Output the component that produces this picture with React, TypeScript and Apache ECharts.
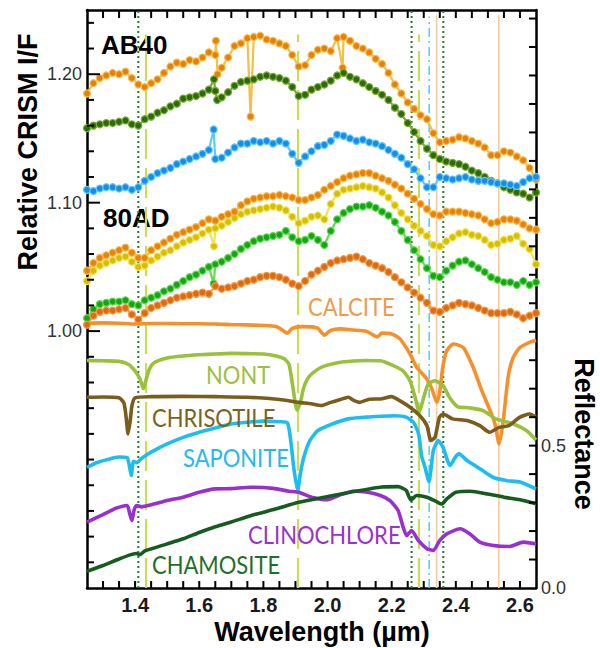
import React, { useEffect, useRef } from "react";
import * as echarts from "echarts";

// Wavelength grid of the CRISM spectra (µm)
const WL = [
  1.25, 1.27, 1.29, 1.31, 1.33, 1.35, 1.37, 1.39, 1.41, 1.43,
  1.45, 1.47, 1.49, 1.51, 1.53, 1.55, 1.57, 1.59, 1.61, 1.63,
  1.65, 1.67, 1.69, 1.71, 1.73, 1.75, 1.77, 1.79, 1.81, 1.83,
  1.85, 1.87, 1.89, 1.91, 1.93, 1.95, 1.97, 1.99, 2.01, 2.03,
  2.05, 2.07, 2.09, 2.11, 2.13, 2.15, 2.17, 2.19, 2.21, 2.23,
  2.25, 2.27, 2.29, 2.31, 2.33, 2.35, 2.37, 2.39, 2.41, 2.43,
  2.45, 2.47, 2.49, 2.51, 2.53, 2.55, 2.57, 2.59, 2.61, 2.63,
  2.65,
];

// Relative CRISM I/F (left axis)
const AB40_ORANGE = [
  1.185, 1.193, 1.197, 1.199, 1.201, 1.200, 1.202, 1.197, 1.192, 1.190,
  1.193, 1.196, 1.201, 1.206, 1.209, 1.208, 1.211, 1.210, 1.213, 1.217,
  1.215, 1.205, 1.213, 1.222, 1.224, 1.228, 1.229, 1.230, 1.227, 1.226,
  1.224, 1.222, 1.215, 1.206, 1.207, 1.215, 1.219, 1.220, 1.218, 1.228,
  1.229, 1.226, 1.222, 1.220, 1.217, 1.212, 1.208, 1.201, 1.192, 1.185,
  1.178, 1.173, 1.168, 1.165, 1.154, 1.147, 1.148, 1.149, 1.151, 1.150,
  1.148, 1.146, 1.143, 1.137, 1.137, 1.140, 1.139, 1.136, 1.133, 1.127,
  1.118,
];
const AB40_ORANGE_SPIKES = [[1.652, 1.226], [1.657, 1.200], [1.76, 1.167], [2.047, 1.205]];

const AB40_GREEN = [
  1.158, 1.160, 1.161, 1.162, 1.162, 1.163, 1.164, 1.161, 1.160, 1.165,
  1.167, 1.170, 1.172, 1.175, 1.177, 1.181, 1.182, 1.183, 1.185, 1.188,
  1.187, 1.182, 1.186, 1.191, 1.194, 1.195, 1.196, 1.198, 1.199, 1.198,
  1.197, 1.195, 1.190, 1.183, 1.184, 1.188, 1.190, 1.192, 1.195, 1.199,
  1.201, 1.198, 1.196, 1.193, 1.190, 1.187, 1.184, 1.180, 1.174, 1.169,
  1.162, 1.155, 1.148, 1.142, 1.137, 1.134, 1.132, 1.131, 1.130, 1.128,
  1.125, 1.123, 1.120, 1.117, 1.115, 1.112, 1.110, 1.108, 1.107, 1.104,
  1.108,
];
const AB40_GREEN_SPIKES = [[1.646, 1.196], [1.656, 1.180]];

const AB40_BLUE = [
  1.110, 1.109, 1.111, 1.112, 1.112, 1.111, 1.112, 1.110, 1.112, 1.117,
  1.120, 1.123, 1.125, 1.127, 1.130, 1.132, 1.134, 1.136, 1.138, 1.141,
  1.134, 1.135, 1.139, 1.143, 1.146, 1.146, 1.148, 1.147, 1.148, 1.146,
  1.148, 1.146, 1.138, 1.131, 1.136, 1.140, 1.144, 1.145, 1.148, 1.153,
  1.152, 1.150, 1.148, 1.149, 1.147, 1.146, 1.144, 1.141, 1.138, 1.135,
  1.130, 1.126, 1.119, 1.112, 1.112, 1.120, 1.119, 1.118, 1.119, 1.120,
  1.118, 1.117, 1.117, 1.116, 1.115, 1.115, 1.114, 1.113, 1.116, 1.119,
  1.120,
];
const AB40_BLUE_SPIKES = [[1.645, 1.157]];

const AD80_ORANGE = [
  1.047, 1.053, 1.057, 1.059, 1.061, 1.063, 1.065, 1.061, 1.057, 1.057,
  1.063, 1.066, 1.069, 1.072, 1.075, 1.077, 1.079, 1.081, 1.084, 1.087,
  1.086, 1.089, 1.091, 1.093, 1.098, 1.101, 1.103, 1.104, 1.105, 1.105,
  1.106, 1.105, 1.104, 1.102, 1.102, 1.104, 1.106, 1.110, 1.113, 1.116,
  1.119, 1.121, 1.122, 1.123, 1.123, 1.121, 1.119, 1.117, 1.114, 1.111,
  1.107, 1.103, 1.099, 1.095, 1.091, 1.090, 1.093, 1.093, 1.093, 1.092,
  1.091, 1.090, 1.087, 1.084, 1.085, 1.087, 1.087, 1.086, 1.083, 1.080,
  1.079,
];
const AD80_YELLOW = [
  1.039, 1.047, 1.051, 1.053, 1.055, 1.057, 1.058, 1.054, 1.050, 1.051,
  1.055, 1.058, 1.061, 1.063, 1.066, 1.069, 1.071, 1.073, 1.076, 1.079,
  1.080, 1.082, 1.085, 1.088, 1.091, 1.093, 1.094, 1.095, 1.096, 1.097,
  1.096, 1.094, 1.089, 1.084, 1.086, 1.089, 1.090, 1.087, 1.099, 1.107,
  1.110, 1.111, 1.112, 1.113, 1.112, 1.111, 1.108, 1.104, 1.098, 1.092,
  1.087, 1.082, 1.078, 1.074, 1.067, 1.066, 1.070, 1.073, 1.076, 1.077,
  1.075, 1.074, 1.071, 1.067, 1.068, 1.071, 1.072, 1.074, 1.068, 1.064,
  1.052,
];
const AD80_YELLOW_SPIKES = [[1.646, 1.066]];

const AD80_GREEN = [
  1.010, 1.017, 1.021, 1.022, 1.023, 1.023, 1.024, 1.021, 1.020, 1.024,
  1.026, 1.028, 1.031, 1.033, 1.036, 1.039, 1.042, 1.044, 1.047, 1.050,
  1.052, 1.054, 1.057, 1.060, 1.064, 1.067, 1.070, 1.072, 1.073, 1.074,
  1.075, 1.078, 1.073, 1.070, 1.071, 1.074, 1.071, 1.067, 1.078, 1.087,
  1.092, 1.095, 1.097, 1.097, 1.098, 1.096, 1.093, 1.090, 1.085, 1.078,
  1.071, 1.063, 1.056, 1.049, 1.043, 1.042, 1.047, 1.051, 1.054, 1.055,
  1.052, 1.049, 1.046, 1.042, 1.040, 1.038, 1.038, 1.036, 1.039, 1.036,
  1.038,
];
const AD80_GREEN_SPIKES = [[1.645, 1.037]];

const AD80_DARKORANGE = [
  1.005, 1.012, 1.015, 1.016, 1.016, 1.017, 1.018, 1.013, 1.009, 1.014,
  1.018, 1.020, 1.022, 1.024, 1.026, 1.027, 1.028, 1.029, 1.030, 1.029,
  1.035, 1.033, 1.034, 1.035, 1.037, 1.039, 1.040, 1.042, 1.043, 1.043,
  1.042, 1.040, 1.037, 1.035, 1.039, 1.044, 1.047, 1.050, 1.053, 1.055,
  1.056, 1.057, 1.058, 1.056, 1.053, 1.051, 1.049, 1.046, 1.042, 1.038,
  1.034, 1.030, 1.026, 1.022, 1.016, 1.015, 1.018, 1.020, 1.022, 1.021,
  1.020, 1.018, 1.016, 1.014, 1.014, 1.014, 1.015, 1.013, 1.010, 1.012,
  1.014,
];

// Laboratory reflectance spectra (right axis): [wavelength, reflectance]
const CALCITE = [
  [1.25, 0.930], [1.30, 0.931], [1.35, 0.930], [1.40, 0.927], [1.45, 0.929],
  [1.50, 0.929], [1.55, 0.928], [1.60, 0.928], [1.65, 0.927], [1.70, 0.925],
  [1.75, 0.924], [1.80, 0.922], [1.84, 0.918], [1.86, 0.905], [1.875, 0.895],
  [1.89, 0.912], [1.92, 0.918], [1.95, 0.917], [1.97, 0.912], [1.99, 0.888],
  [2.01, 0.905], [2.04, 0.910], [2.08, 0.906], [2.12, 0.902], [2.14, 0.890],
  [2.155, 0.882], [2.17, 0.895], [2.20, 0.892], [2.226, 0.875], [2.257, 0.822],
  [2.278, 0.775], [2.309, 0.735], [2.325, 0.700], [2.341, 0.652], [2.35, 0.690],
  [2.36, 0.780], [2.372, 0.834], [2.392, 0.857], [2.423, 0.845], [2.454, 0.775],
  [2.481, 0.693], [2.507, 0.623], [2.522, 0.577], [2.535, 0.506], [2.548, 0.588],
  [2.563, 0.740], [2.579, 0.810], [2.60, 0.845], [2.63, 0.863], [2.65, 0.870],
];
const NONT = [
  [1.25, 0.799], [1.30, 0.798], [1.35, 0.796], [1.38, 0.785], [1.40, 0.762],
  [1.415, 0.735], [1.426, 0.700], [1.435, 0.735], [1.445, 0.770], [1.46, 0.792],
  [1.50, 0.808], [1.55, 0.815], [1.60, 0.819], [1.65, 0.822], [1.70, 0.824],
  [1.75, 0.823], [1.80, 0.822], [1.84, 0.815], [1.865, 0.805], [1.88, 0.785],
  [1.89, 0.720], [1.905, 0.625], [1.915, 0.650], [1.926, 0.705], [1.945, 0.746],
  [1.98, 0.775], [2.035, 0.792], [2.08, 0.797], [2.12, 0.799], [2.165, 0.798],
  [2.205, 0.781], [2.235, 0.763], [2.257, 0.728], [2.273, 0.670], [2.286, 0.617],
  [2.30, 0.670], [2.314, 0.717], [2.335, 0.728], [2.36, 0.711], [2.38, 0.670],
  [2.405, 0.637], [2.44, 0.633], [2.485, 0.623], [2.525, 0.594], [2.58, 0.576],
  [2.62, 0.553], [2.65, 0.520],
];
const CHRISOTILE = [
  [1.25, 0.670], [1.30, 0.671], [1.35, 0.668], [1.365, 0.650], [1.372, 0.600],
  [1.378, 0.541], [1.385, 0.590], [1.39, 0.640], [1.40, 0.668], [1.45, 0.672],
  [1.55, 0.673], [1.65, 0.672], [1.75, 0.670], [1.85, 0.662], [1.91, 0.652],
  [1.95, 0.647], [1.98, 0.641], [2.01, 0.652], [2.04, 0.662], [2.065, 0.670],
  [2.08, 0.660], [2.10, 0.652], [2.13, 0.663], [2.165, 0.664], [2.20, 0.672],
  [2.225, 0.658], [2.257, 0.635], [2.288, 0.605], [2.31, 0.570], [2.322, 0.518],
  [2.335, 0.529], [2.349, 0.600], [2.36, 0.611], [2.39, 0.594], [2.435, 0.588],
  [2.475, 0.570], [2.505, 0.547], [2.535, 0.564], [2.565, 0.570], [2.60, 0.600],
  [2.63, 0.611], [2.65, 0.600],
];
const SAPONITE = [
  [1.25, 0.424], [1.28, 0.440], [1.31, 0.450], [1.35, 0.460], [1.375, 0.458],
  [1.382, 0.430], [1.388, 0.395], [1.395, 0.445], [1.405, 0.440], [1.42, 0.455],
  [1.45, 0.477], [1.50, 0.506], [1.55, 0.529], [1.60, 0.547], [1.65, 0.562],
  [1.70, 0.576], [1.75, 0.582], [1.80, 0.586], [1.85, 0.584], [1.875, 0.580],
  [1.885, 0.520], [1.895, 0.420], [1.907, 0.342], [1.915, 0.400], [1.926, 0.459],
  [1.945, 0.518], [1.97, 0.553], [2.015, 0.576], [2.065, 0.594], [2.12, 0.600],
  [2.165, 0.603], [2.21, 0.605], [2.245, 0.600], [2.268, 0.582], [2.284, 0.541],
  [2.294, 0.460], [2.304, 0.424], [2.316, 0.372], [2.33, 0.483], [2.345, 0.518],
  [2.36, 0.494], [2.382, 0.430], [2.398, 0.459], [2.41, 0.471], [2.435, 0.448],
  [2.475, 0.419], [2.515, 0.389], [2.56, 0.377], [2.60, 0.372], [2.65, 0.348],
];
const CLINOCHLORE = [
  [1.25, 0.231], [1.30, 0.258], [1.34, 0.280], [1.375, 0.290], [1.383, 0.262],
  [1.39, 0.237], [1.397, 0.275], [1.405, 0.290], [1.42, 0.285], [1.45, 0.292],
  [1.50, 0.307], [1.55, 0.319], [1.60, 0.336], [1.65, 0.348], [1.70, 0.349],
  [1.76, 0.354], [1.83, 0.350], [1.88, 0.340], [1.91, 0.336], [1.95, 0.319],
  [2.00, 0.310], [2.035, 0.325], [2.08, 0.340], [2.12, 0.337], [2.165, 0.325],
  [2.195, 0.307], [2.22, 0.272], [2.236, 0.213], [2.247, 0.184], [2.262, 0.202],
  [2.283, 0.167], [2.31, 0.138], [2.33, 0.132], [2.35, 0.167], [2.372, 0.190],
  [2.413, 0.208], [2.444, 0.190], [2.475, 0.161], [2.517, 0.149], [2.568, 0.146],
  [2.61, 0.161], [2.65, 0.155],
];
const CHAMOSITE = [
  [1.25, 0.059], [1.30, 0.079], [1.35, 0.102], [1.39, 0.118], [1.405, 0.121],
  [1.415, 0.117], [1.43, 0.130], [1.50, 0.155], [1.55, 0.173], [1.60, 0.195],
  [1.65, 0.215], [1.70, 0.232], [1.76, 0.254], [1.84, 0.278], [1.91, 0.301],
  [1.99, 0.319], [2.07, 0.336], [2.17, 0.355], [2.22, 0.356], [2.245, 0.343],
  [2.26, 0.309], [2.278, 0.325], [2.31, 0.319], [2.34, 0.303], [2.356, 0.295],
  [2.372, 0.313], [2.40, 0.336], [2.445, 0.340], [2.50, 0.330], [2.55, 0.319],
  [2.60, 0.310], [2.65, 0.296],
];

// Absorption feature positions (µm)
const MGOH_LINES = [1.41, 2.262, 2.361];
const H2O_LINES = [1.434, 1.908, 2.285];
const FEOH_LINES = [2.317];
const CARB_LINES = [2.34, 2.534];

// Axis labels
const X_LABELS = [1.4, 1.6, 1.8, 2.0, 2.2, 2.4, 2.6];
const LEFT_LABELS = [1.0, 1.1, 1.2];
const RIGHT_LABELS = [0, 0.5];

const X_MIN = 1.25, X_MAX = 2.65;
const L_MIN = 0.8, L_MAX = 1.25;
const R_MIN = 0, R_MAX = 2.03;

// tick positions
const X_TICKS: number[] = [];
for (let k = 130; k <= 260; k += 5) X_TICKS.push(k / 100);
const L_TICKS: number[] = [];
for (let k = 82; k <= 124; k += 2) L_TICKS.push(k / 100);
const R_TICKS: number[] = [];
for (let k = 1; k <= 20; k += 1) R_TICKS.push(k / 10);

const crismSeries = [
  { values: AB40_ORANGE, extra: AB40_ORANGE_SPIKES, fill: "#E5800F", edge: "#F5BE48" },
  { values: AB40_GREEN, extra: AB40_GREEN_SPIKES, fill: "#2C6A10", edge: "#7DAA34" },
  { values: AB40_BLUE, extra: AB40_BLUE_SPIKES, fill: "#1C8BE6", edge: "#5CCBF6" },
  { values: AD80_YELLOW, extra: AD80_YELLOW_SPIKES, fill: "#D6BE08", edge: "#F1E24E" },
  { values: AD80_ORANGE, extra: [], fill: "#E6830F", edge: "#F5BA48" },
  { values: AD80_GREEN, extra: AD80_GREEN_SPIKES, fill: "#18A418", edge: "#62DB52" },
  { values: AD80_DARKORANGE, extra: [], fill: "#DD6C10", edge: "#F29A4A" },
];

const labSeries = [
  { data: CALCITE, color: "#F78F2A" },
  { data: NONT, color: "#99C13B" },
  { data: CHRISOTILE, color: "#7A5D1D" },
  { data: SAPONITE, color: "#1DBDF1" },
  { data: CLINOCHLORE, color: "#9A2FD0" },
  { data: CHAMOSITE, color: "#165C20" },
];

const near = (v: number, list: number[]) => list.some((t) => Math.abs(v - t) < 1e-6);

function vline(wl: number, top: number, color: string, type: any, width: number) {
  return {
    type: "line",
    xAxisIndex: 0,
    yAxisIndex: 0,
    data: [
      [wl, L_MIN],
      [wl, top],
    ],
    symbol: "none",
    silent: true,
    z: 1,
    lineStyle: { color, type, width },
  };
}

const labelFont = '"Lato", "Liberation Sans", sans-serif';

const TEXTS: any[] = [
  {
    type: "text",
    x: 28,
    y: 152,
    rotation: Math.PI / 2,
    style: {
      text: "Relative CRISM I/F",
      font: 'bold 27px "Liberation Sans"',
      fill: "#000",
      textAlign: "center",
      textVerticalAlign: "middle",
    },
  },
  {
    type: "text",
    x: 584,
    y: 434,
    rotation: -Math.PI / 2,
    style: {
      text: "Reflectance",
      font: 'bold 27px "Liberation Sans"',
      fill: "#000",
      textAlign: "center",
      textVerticalAlign: "middle",
    },
  },
  {
    type: "text",
    x: 322,
    y: 632,
    style: {
      text: "Wavelength (µm)",
      font: 'bold 27px "Liberation Sans"',
      fill: "#000",
      textAlign: "center",
      textVerticalAlign: "middle",
    },
  },
  {
    type: "text",
    x: 101,
    y: 45,
    style: { text: "AB40", font: 'bold 26px "Liberation Sans"', fill: "#000", textVerticalAlign: "middle" },
  },
  {
    type: "text",
    x: 103,
    y: 218,
    style: { text: "80AD", font: 'bold 26px "Liberation Sans"', fill: "#000", textVerticalAlign: "middle" },
  },
  ...[
    { t: "CALCITE", x: 308, y: 306, c: "#EE9A50" },
    { t: "NONT", x: 206, y: 374, c: "#9CBF3E" },
    { t: "CHRISOTILE", x: 152, y: 417, c: "#7A6222" },
    { t: "SAPONITE", x: 183, y: 457, c: "#25B9EE" },
    { t: "CLINOCHLORE", x: 248, y: 534, c: "#9A32CF" },
    { t: "CHAMOSITE", x: 152, y: 564, c: "#1F6E2A" },
  ].map((l) => ({
    type: "text",
    x: l.x,
    y: l.y,
    scaleY: 1.15,
    z: 10,
    style: {
      text: l.t,
      font: `22px ${labelFont}`,
      fill: l.c,
      textAlign: "left",
      textVerticalAlign: "middle",
    },
  })),
];

export default function App() {
  const ref = useRef<HTMLDivElement>(null);
  useEffect(() => {
    const chart = echarts.init(ref.current!, null, { renderer: "svg" });
    const series: any[] = [];
    MGOH_LINES.forEach((w) => series.push(vline(w, L_MAX, "#2A7A2E", [2, 3], 2)));
    H2O_LINES.forEach((w) => series.push(vline(w, 1.231, "#C9DD55", [30, 9], 2.2)));
    FEOH_LINES.forEach((w) => series.push(vline(w, 1.245, "#5CCFF0", [9, 4, 2, 4], 1.6)));
    CARB_LINES.forEach((w) => series.push(vline(w, 1.246, "#F6CBA2", "solid", 1.6)));
    labSeries.forEach((s) =>
      series.push({
        type: "line",
        xAxisIndex: 0,
        yAxisIndex: 1,
        data: s.data,
        symbol: "none",
        smooth: 0.2,
        z: 2,
        lineStyle: { color: s.color, width: 3.6 },
      })
    );
    crismSeries.forEach((s) => {
      const pts = WL.map((w, i) => [w, s.values[i]]).concat(s.extra as number[][]);
      pts.sort((a, b) => a[0] - b[0]);
      series.push({
        type: "line",
        xAxisIndex: 0,
        yAxisIndex: 0,
        data: pts,
        symbol: "circle",
        symbolSize: 7,
        showSymbol: true,
        showAllSymbol: true,
        z: 3,
        itemStyle: { color: s.fill, borderColor: s.edge, borderWidth: 1.2 },
        lineStyle: { color: s.edge, width: 2.2 },
      });
    });

    const axisLine = { show: true, onZero: false, lineStyle: { color: "#000", width: 2.5 } };

    chart.setOption({
      animation: false,
      backgroundColor: "#fff",
      grid: { left: 87, top: 10, width: 449, height: 578, containLabel: false },
      xAxis: [
        {
          type: "value",
          position: "bottom",
          min: X_MIN,
          max: X_MAX,
          interval: 0.05,
          axisLine,
          splitLine: { show: false },
          axisTick: { show: false },
          axisLabel: {
            margin: 7,
            fontFamily: "Liberation Sans",
            fontWeight: "bold",
            fontSize: 20,
            color: "#1a1a1a",
            formatter: (v: number) => (near(v, X_LABELS) ? v.toFixed(1) : ""),
          },
        },
        {
          type: "value",
          position: "top",
          min: X_MIN,
          max: X_MAX,
          interval: 0.05,
          axisLine,
          splitLine: { show: false },
          axisTick: { show: false },
          axisLabel: { show: false },
        },
      ],
      yAxis: [
        {
          type: "value",
          position: "left",
          min: L_MIN,
          max: L_MAX,
          interval: 0.02,
          axisLine,
          splitLine: { show: false },
          axisTick: { show: false },
          axisLabel: {
            margin: 5,
            fontFamily: "Liberation Sans",
            fontSize: 18,
            color: "#333",
            formatter: (v: number) => (near(v, LEFT_LABELS) ? v.toFixed(2) : ""),
          },
        },
        {
          type: "value",
          position: "right",
          min: R_MIN,
          max: R_MAX,
          interval: 0.1,
          axisLine,
          splitLine: { show: false },
          axisTick: { show: false },
          axisLabel: {
            margin: 5,
            fontFamily: "Liberation Sans",
            fontSize: 18,
            color: "#333",
            formatter: (v: number) => (near(v, RIGHT_LABELS) ? v.toFixed(1) : ""),
          },
        },
      ],
      series,
    });

    // Tick marks inside the frame (small filled bars), placed through the axes' scales
    const ticks: any[] = [];
    const fill = { fill: "#000" };
    const toPx = (yIdx: number, v: number[]) =>
      chart.convertToPixel({ xAxisIndex: 0, yAxisIndex: yIdx } as any, v) as number[];
    X_TICKS.forEach((v) => {
      const b = toPx(0, [v, L_MIN]);
      const t = toPx(0, [v, L_MAX]);
      ticks.push({ type: "rect", z: 50, shape: { x: b[0] - 1, y: b[1] - 7, width: 2, height: 7 }, style: fill });
      ticks.push({ type: "rect", z: 50, shape: { x: t[0] - 1, y: t[1], width: 2, height: 8 }, style: fill });
    });
    L_TICKS.forEach((v) => {
      const p = toPx(0, [X_MIN, v]);
      const len = near(v, LEFT_LABELS) ? 13 : 7;
      ticks.push({ type: "rect", z: 50, shape: { x: p[0], y: p[1] - 1, width: len, height: 2 }, style: fill });
    });
    R_TICKS.forEach((v) => {
      const p = toPx(1, [X_MAX, v]);
      ticks.push({ type: "rect", z: 50, shape: { x: p[0] - 7, y: p[1] - 1, width: 7, height: 2 }, style: fill });
    });
    chart.setOption({ graphic: [...TEXTS, ...ticks] });

    return () => chart.dispose();
  }, []);
  return (
    <div
      ref={ref}
      style={{ position: "fixed", left: 0, top: 0, width: 600, height: 648, background: "#fff" }}
    />
  );
}
